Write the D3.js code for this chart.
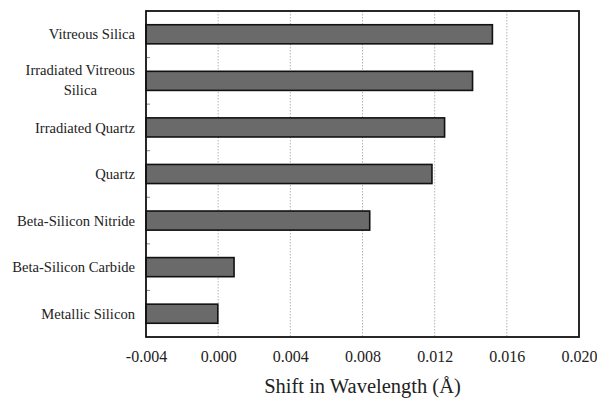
<!DOCTYPE html>
<html>
<head>
<meta charset="utf-8">
<script src="https://cdn.jsdelivr.net/npm/d3@7/dist/d3.min.js"></script>
<style>
  body { margin: 0; background: #fff; }
  svg text { font-family: "Liberation Serif", serif !important; fill: #222; }
</style>
</head>
<body>
<div id="chart"></div>
<script>
var categories = ["Vitreous Silica", "Irradiated Vitreous|Silica", "Irradiated Quartz", "Quartz",
                  "Beta-Silicon Nitride", "Beta-Silicon Carbide", "Metallic Silicon"]
var shifts = [0.0152, 0.0141, 0.01255, 0.01185, 0.0084, 0.00088, -0.00002]
var xTicks = [-0.004, 0.000, 0.004, 0.008, 0.012, 0.016, 0.020]

var width = 597, height = 399
  , margin = { top: 11, right: 18, bottom: 62, left: 146 }
  , serif = "'Liberation Serif', serif"

var svg = d3.select("#chart")
  .append("svg")
    .attr("width", width)
    .attr("height", height)

var x = d3.scaleLinear()
  .domain([-0.004, 0.020])
  .range([margin.left, width - margin.right])

var y = d3.scaleBand()
  .domain(categories)
  .range([margin.top, height - margin.bottom])
  .paddingInner(0.59)
  .paddingOuter(0.295)

// grid lines
svg.append("g")
  .selectAll("line")
  .data(xTicks.slice(1, -1))
  .join("line")
    .attr("x1", function(d) { return x(d) })
    .attr("x2", function(d) { return x(d) })
    .attr("y1", margin.top)
    .attr("y2", height - margin.bottom)
    .attr("stroke", "#b5b5b5")
    .attr("stroke-width", 1)
    .attr("stroke-dasharray", "1.5,1.5")

// bars
svg.append("g")
  .selectAll("rect")
  .data(shifts)
  .join("rect")
    .attr("x", x(-0.004))
    .attr("y", function(d, i) { return y(categories[i]) })
    .attr("width", function(d) { return x(d) - x(-0.004) })
    .attr("height", y.bandwidth())
    .attr("fill", "#6a6a6a")
    .attr("stroke", "#111")
    .attr("stroke-width", 1.6)

// small ticks on left axis between categories
var step = y.step()
svg.append("g")
  .selectAll("line")
  .data(categories.slice(1))
  .join("line")
    .attr("x1", margin.left)
    .attr("x2", margin.left + 4)
    .attr("y1", function(d) { return y(d) - step * y.paddingInner() / 2 })
    .attr("y2", function(d) { return y(d) - step * y.paddingInner() / 2 })
    .attr("stroke", "#888")
    .attr("stroke-width", 1)

// frame
svg.append("rect")
  .attr("x", margin.left)
  .attr("y", margin.top)
  .attr("width", width - margin.right - margin.left)
  .attr("height", height - margin.bottom - margin.top)
  .attr("fill", "none")
  .attr("stroke", "#111")
  .attr("stroke-width", 1.8)

// x axis labels (plain hyphen for the minus sign, as in the original)
var xAxis = d3.axisBottom(x)
  .tickValues(xTicks)
  .tickFormat(function(d) { return d3.format(".3f")(d).replace("\u2212", "-") })
  .tickSize(0)
  .tickPadding(14)

var gx = svg.append("g")
  .attr("transform", "translate(0," + (height - margin.bottom) + ")")
  .call(xAxis)
gx.attr("font-family", serif)
gx.select(".domain").remove()
gx.selectAll("text")
  .style("font-family", serif)
  .style("font-size", "16px")
  .attr("fill", "#222")

// category labels
var labels = svg.append("g")
categories.forEach(function(c) {
  var lines = c.split("|")
    , cy = y(c) + y.bandwidth() / 2
  if (lines.length == 1) {
    labels.append("text")
      .attr("x", margin.left - 11)
      .attr("y", cy)
      .attr("dy", "0.35em")
      .attr("text-anchor", "end")
      .style("font-family", serif)
      .style("font-size", "14.6px")
      .text(c)
  } else {
    var t = labels.append("text")
      .style("font-family", serif)
      .style("font-size", "14.6px")
      .attr("text-anchor", "middle")
    var first = t.append("tspan").text(lines[0])
    var w = first.node().getComputedTextLength()
      , cx = margin.left - 11 - w / 2
    first.attr("x", cx).attr("y", cy - 11).attr("dy", "0.35em")
    t.append("tspan").attr("x", cx).attr("y", cy + 9).attr("dy", "0.35em").text(lines[1])
  }
})

// axis title
svg.append("text")
  .attr("x", (x(-0.004) + x(0.020)) / 2)
  .attr("y", 393)
  .attr("text-anchor", "middle")
  .style("font-family", serif)
  .style("font-size", "20.5px")
  .text("Shift in Wavelength (\u00C5)")
</script>
</body>
</html>
